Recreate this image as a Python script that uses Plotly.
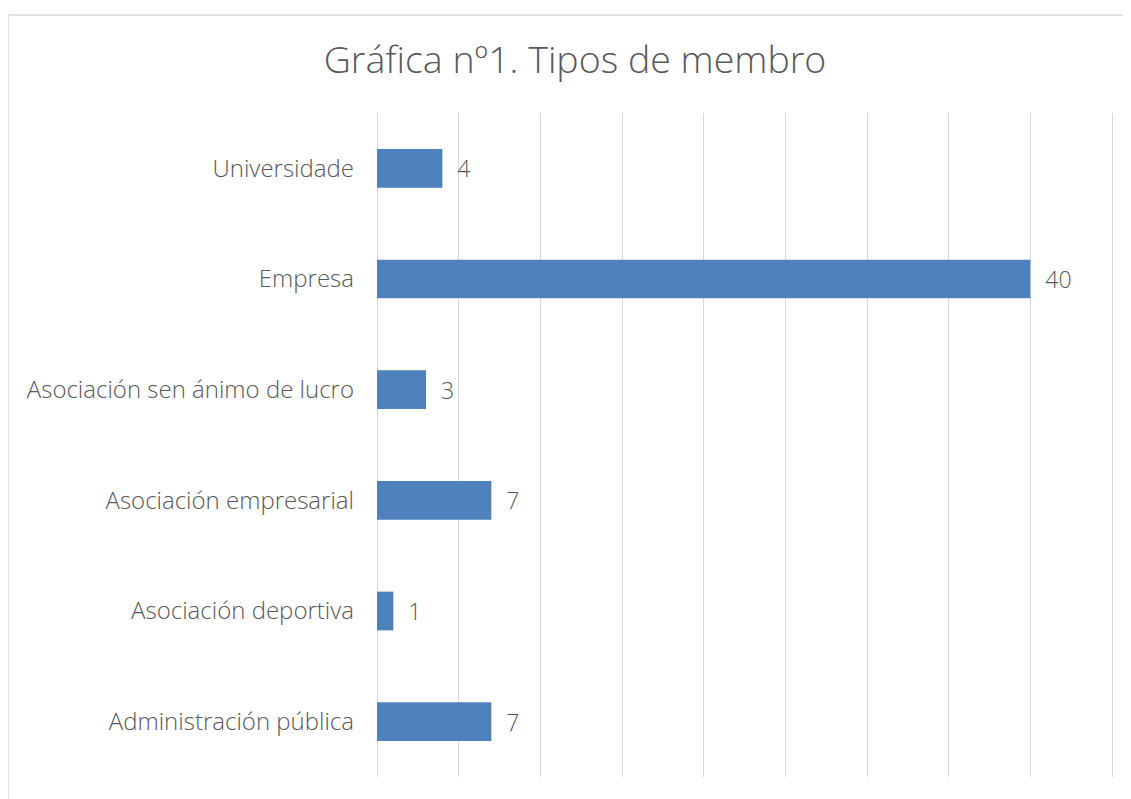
import plotly.graph_objects as go

categories = ["Administración pública", "Asociación deportiva", "Asociación empresarial",
              "Asociación sen ánimo de lucro", "Empresa", "Universidade"]
values = [7, 1, 7, 3, 40, 4]

OFF = 8  # page body margin
PAD = 2  # so the edge gridlines at 0 and 45 get drawn
W, H = 1131 - OFF, 799 - OFF
L, R, T, B = 377 - OFF - PAD, 1131 - 1112 - PAD, 113 - OFF, 799 - 777
pw, ph = W - L - R, H - T - B
unit = (1112 - 377) / 45.0
ext = PAD / unit

FONT = "Open Sans"
GREY = "#595959"

fig = go.Figure(go.Bar(
    y=categories, x=values, orientation="h",
    marker=dict(color="#4F81BD", line=dict(width=0)),
    width=0.35,
    text=["  " + str(v) for v in values], textposition="outside",
    textfont=dict(size=23, color=GREY, family=FONT, weight=300),
    cliponaxis=False,
))

fig.update_layout(
    width=W, height=H,
    margin=dict(l=L, r=R, t=T, b=B, autoexpand=False),
    paper_bgcolor="white", plot_bgcolor="white",
    title=dict(text="Gráfica nº1. Tipos de membro", x=(575 - OFF) / W, xref="container",
               xanchor="center", y=1 - (60 - OFF) / H, yref="container", yanchor="middle",
               font=dict(size=37.5, color=GREY, family=FONT, weight=300)),
    font=dict(family=FONT, color=GREY, size=24, weight=300),
    showlegend=False,
    bargap=0.65,
)
fig.update_xaxes(range=[-ext, 45 + ext], tickvals=list(range(0, 50, 5)), showgrid=True,
                 gridcolor="#D9D9D9", gridwidth=1.3,
                 zeroline=False, showticklabels=False, showline=False, fixedrange=True)
fig.update_yaxes(showgrid=False, showline=False, zeroline=False, ticks="",
                 ticklabelstandoff=20,
                 tickfont=dict(size=24, color=GREY, family=FONT, weight=300))

# chart border
fig.add_shape(type="rect", xref="paper", yref="paper",
              x0=(8 - OFF - L) / pw, x1=(W + 5 - L) / pw,
              y0=(T + ph - (H + 5)) / ph, y1=(T + ph - (15 - OFF)) / ph,
              line=dict(color="#D9D9D9", width=1.5), fillcolor="rgba(0,0,0,0)", layer="below")

fig.write_html("out.html")
